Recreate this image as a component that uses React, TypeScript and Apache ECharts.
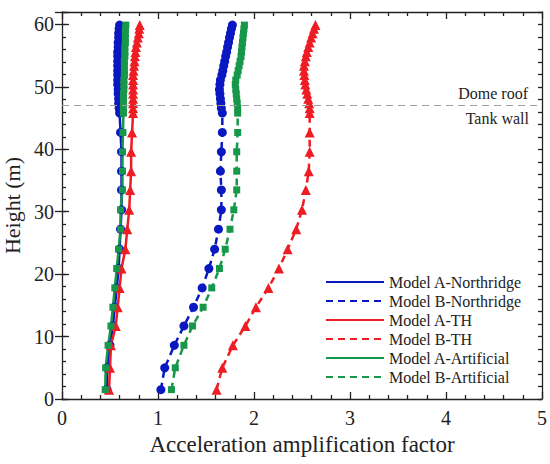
import React, { useEffect, useRef } from "react";
import * as echarts from "echarts";

// Heights (m) of the output points: tank wall then dome roof
const heights = [
  1.5, 5.0, 8.6, 11.7, 14.7, 17.8, 20.9, 24.0, 27.2, 30.3, 33.5, 36.5, 39.6, 42.7, 45.8,
  46.6, 47.4, 48.1, 48.9, 49.6, 50.4, 51.1, 51.9, 52.6, 53.4, 54.1, 54.9, 55.6, 56.4, 57.1, 57.9, 58.6, 59.3, 59.9,
];

const modelANorthridge = [
  0.47, 0.47, 0.5, 0.53, 0.55, 0.57, 0.59, 0.6, 0.61, 0.62, 0.62, 0.62, 0.62, 0.61, 0.6,
  0.595, 0.59, 0.59, 0.585, 0.585, 0.58, 0.58, 0.58, 0.58, 0.58, 0.58, 0.58, 0.58, 0.585, 0.585, 0.59, 0.59, 0.595, 0.6,
];
const modelBNorthridge = [
  1.03, 1.07, 1.17, 1.27, 1.37, 1.46, 1.53, 1.59, 1.63, 1.66, 1.66, 1.65, 1.66, 1.67, 1.67,
  1.66, 1.655, 1.65, 1.645, 1.64, 1.645, 1.65, 1.665, 1.675, 1.685, 1.695, 1.705, 1.715, 1.725, 1.735, 1.745, 1.755, 1.765, 1.775,
];
const modelATH = [
  0.49, 0.5, 0.51, 0.56, 0.58, 0.6, 0.62, 0.66, 0.68, 0.7, 0.71, 0.72, 0.72, 0.73, 0.74,
  0.74, 0.74, 0.74, 0.74, 0.74, 0.74, 0.74, 0.74, 0.745, 0.75, 0.755, 0.76, 0.765, 0.77, 0.78, 0.79, 0.8, 0.805, 0.81,
];
const modelBTH = [
  1.61, 1.67, 1.78, 1.91, 2.02, 2.15, 2.26, 2.35, 2.44, 2.5, 2.54, 2.57, 2.58, 2.58, 2.58,
  2.58, 2.575, 2.565, 2.555, 2.545, 2.535, 2.53, 2.525, 2.52, 2.52, 2.53, 2.54, 2.55, 2.565, 2.58, 2.595, 2.61, 2.625, 2.64,
];
const modelAArtificial = [
  0.45, 0.455, 0.48, 0.51, 0.53, 0.55, 0.57, 0.59, 0.61, 0.61, 0.63, 0.63, 0.63, 0.635, 0.64,
  0.64, 0.64, 0.64, 0.64, 0.645, 0.645, 0.645, 0.65, 0.65, 0.65, 0.65, 0.655, 0.655, 0.655, 0.66, 0.66, 0.66, 0.66, 0.665,
];
const modelBArtificial = [
  1.14, 1.18, 1.27, 1.36, 1.47, 1.56, 1.64, 1.7, 1.75, 1.79, 1.82, 1.82, 1.82, 1.83, 1.83,
  1.83, 1.825, 1.82, 1.815, 1.81, 1.805, 1.81, 1.825, 1.835, 1.845, 1.855, 1.865, 1.87, 1.875, 1.88, 1.885, 1.89, 1.895, 1.9,
];

const seriesNames = [
  "Model A-Northridge",
  "Model B-Northridge",
  "Model A-TH",
  "Model B-TH",
  "Model A-Artificial",
  "Model B-Artificial",
];

const domeRoofHeight = 47;
const annotationTop = "Dome roof";
const annotationBottom = "Tank wall";
const xTitle = "Acceleration amplification factor";
const yTitle = "Height (m)";

const FONT = "'Liberation Serif', 'Times New Roman', serif";
const INK = "#222";
const BLUE = "#0a18c2";
const RED = "#ee1d23";
const GREEN = "#17974a";

function makeSeries(name: string, xs: number[], color: string, symbol: string, size: number, dashed: boolean, extra: any = {}) {
  return {
    type: "line",
    name,
    xAxisIndex: 0,
    yAxisIndex: 0,
    data: xs.map((x, i) => [x, heights[i]]),
    symbol,
    symbolSize: size,
    showSymbol: true,
    clip: false,
    lineStyle: { color, width: 2.5, type: dashed ? [7, 5] : "solid" },
    itemStyle: { color },
    ...extra,
  };
}

export default function App() {
  const ref = useRef<HTMLDivElement>(null);
  useEffect(() => {
    document.body.style.margin = "0";
    const chart = echarts.init(ref.current!, null, { renderer: "svg" });
    const axisLineStyle = { color: INK, width: 1.3 };
    const xCommon = {
      type: "value",
      min: 0,
      max: 5,
      interval: 1,
      axisLine: { show: true, onZero: false, lineStyle: axisLineStyle },
      axisTick: { show: true, inside: true, length: 7, lineStyle: axisLineStyle },
      minorTick: { show: true, splitNumber: 5, length: 4, lineStyle: axisLineStyle },
      splitLine: { show: false },
      minorSplitLine: { show: false },
    };
    const yMinor = {
      type: "value",
      min: 0,
      max: 62,
      interval: 2,
      axisLine: { show: true, onZero: false, lineStyle: axisLineStyle },
      axisTick: { show: true, inside: true, length: 4, lineStyle: axisLineStyle },
      splitLine: { show: false },
    };
    const yMajor = {
      type: "value",
      min: 0,
      max: 62,
      interval: 10,
      axisLine: { show: false },
      axisTick: { show: true, inside: true, length: 7, lineStyle: axisLineStyle },
      axisLabel: { show: false },
      splitLine: { show: false },
    };
    const option: any = {
      animation: false,
      backgroundColor: "#ffffff",
      grid: { left: 62, right: 8, top: 12, bottom: 65, outerBoundsMode: "none", containLabel: false },
      xAxis: [
        {
          ...xCommon,
          position: "bottom",
          axisLabel: { fontFamily: FONT, fontSize: 20, color: INK, margin: 9 },
          name: xTitle,
          nameLocation: "middle",
          nameGap: 30,
          nameTextStyle: { fontFamily: FONT, fontSize: 23, color: INK },
        },
        { ...xCommon, position: "top", axisLabel: { show: false } },
      ],
      yAxis: [
        {
          ...yMinor,
          position: "left",
          axisLabel: {
            show: true,
            interval: 0,
            fontFamily: FONT,
            fontSize: 20,
            color: INK,
            margin: 8,
            formatter: (v: number) => (v % 10 === 0 ? String(v) : ""),
          },
          name: yTitle,
          nameLocation: "middle",
          nameGap: 33,
          nameRotate: 90,
          nameTextStyle: { fontFamily: FONT, fontSize: 22, color: INK },
        },
        { ...yMajor, position: "left" },
        { ...yMinor, position: "right", axisLabel: { show: false } },
        { ...yMajor, position: "right" },
      ],
      legend: {
        orient: "vertical",
        left: 325,
        top: 274,
        padding: 0,
        itemWidth: 58,
        itemHeight: 14,
        itemGap: 3,
        itemStyle: { opacity: 0 },
        textStyle: { fontFamily: FONT, fontSize: 16, color: INK },
        data: seriesNames,
      },
      graphic: [
        {
          type: "text",
          right: 22,
          top: 85,
          style: { text: annotationTop, font: `16px 'Liberation Serif', 'Times New Roman', serif`, fill: INK },
        },
        {
          type: "text",
          right: 21,
          top: 110,
          style: { text: annotationBottom, font: `16px 'Liberation Serif', 'Times New Roman', serif`, fill: INK },
        },
      ],
      series: [
        makeSeries(seriesNames[0], modelANorthridge, BLUE, "circle", 9, false, {
          markLine: {
            silent: true,
            symbol: ["none", "none"],
            label: { show: false },
            lineStyle: { color: "#a0a0a0", type: [7, 5], width: 1 },
            data: [{ yAxis: domeRoofHeight }],
          },
        }),
        makeSeries(seriesNames[1], modelBNorthridge, BLUE, "circle", 9, true),
        makeSeries(seriesNames[2], modelATH, RED, "triangle", 10, false),
        makeSeries(seriesNames[3], modelBTH, RED, "triangle", 10, true),
        makeSeries(seriesNames[4], modelAArtificial, GREEN, "rect", 7, false),
        makeSeries(seriesNames[5], modelBArtificial, GREEN, "rect", 7, true),
      ],
    };
    chart.setOption(option);
    return () => chart.dispose();
  }, []);
  return <div ref={ref} style={{ width: 550, height: 464 }} />;
}
